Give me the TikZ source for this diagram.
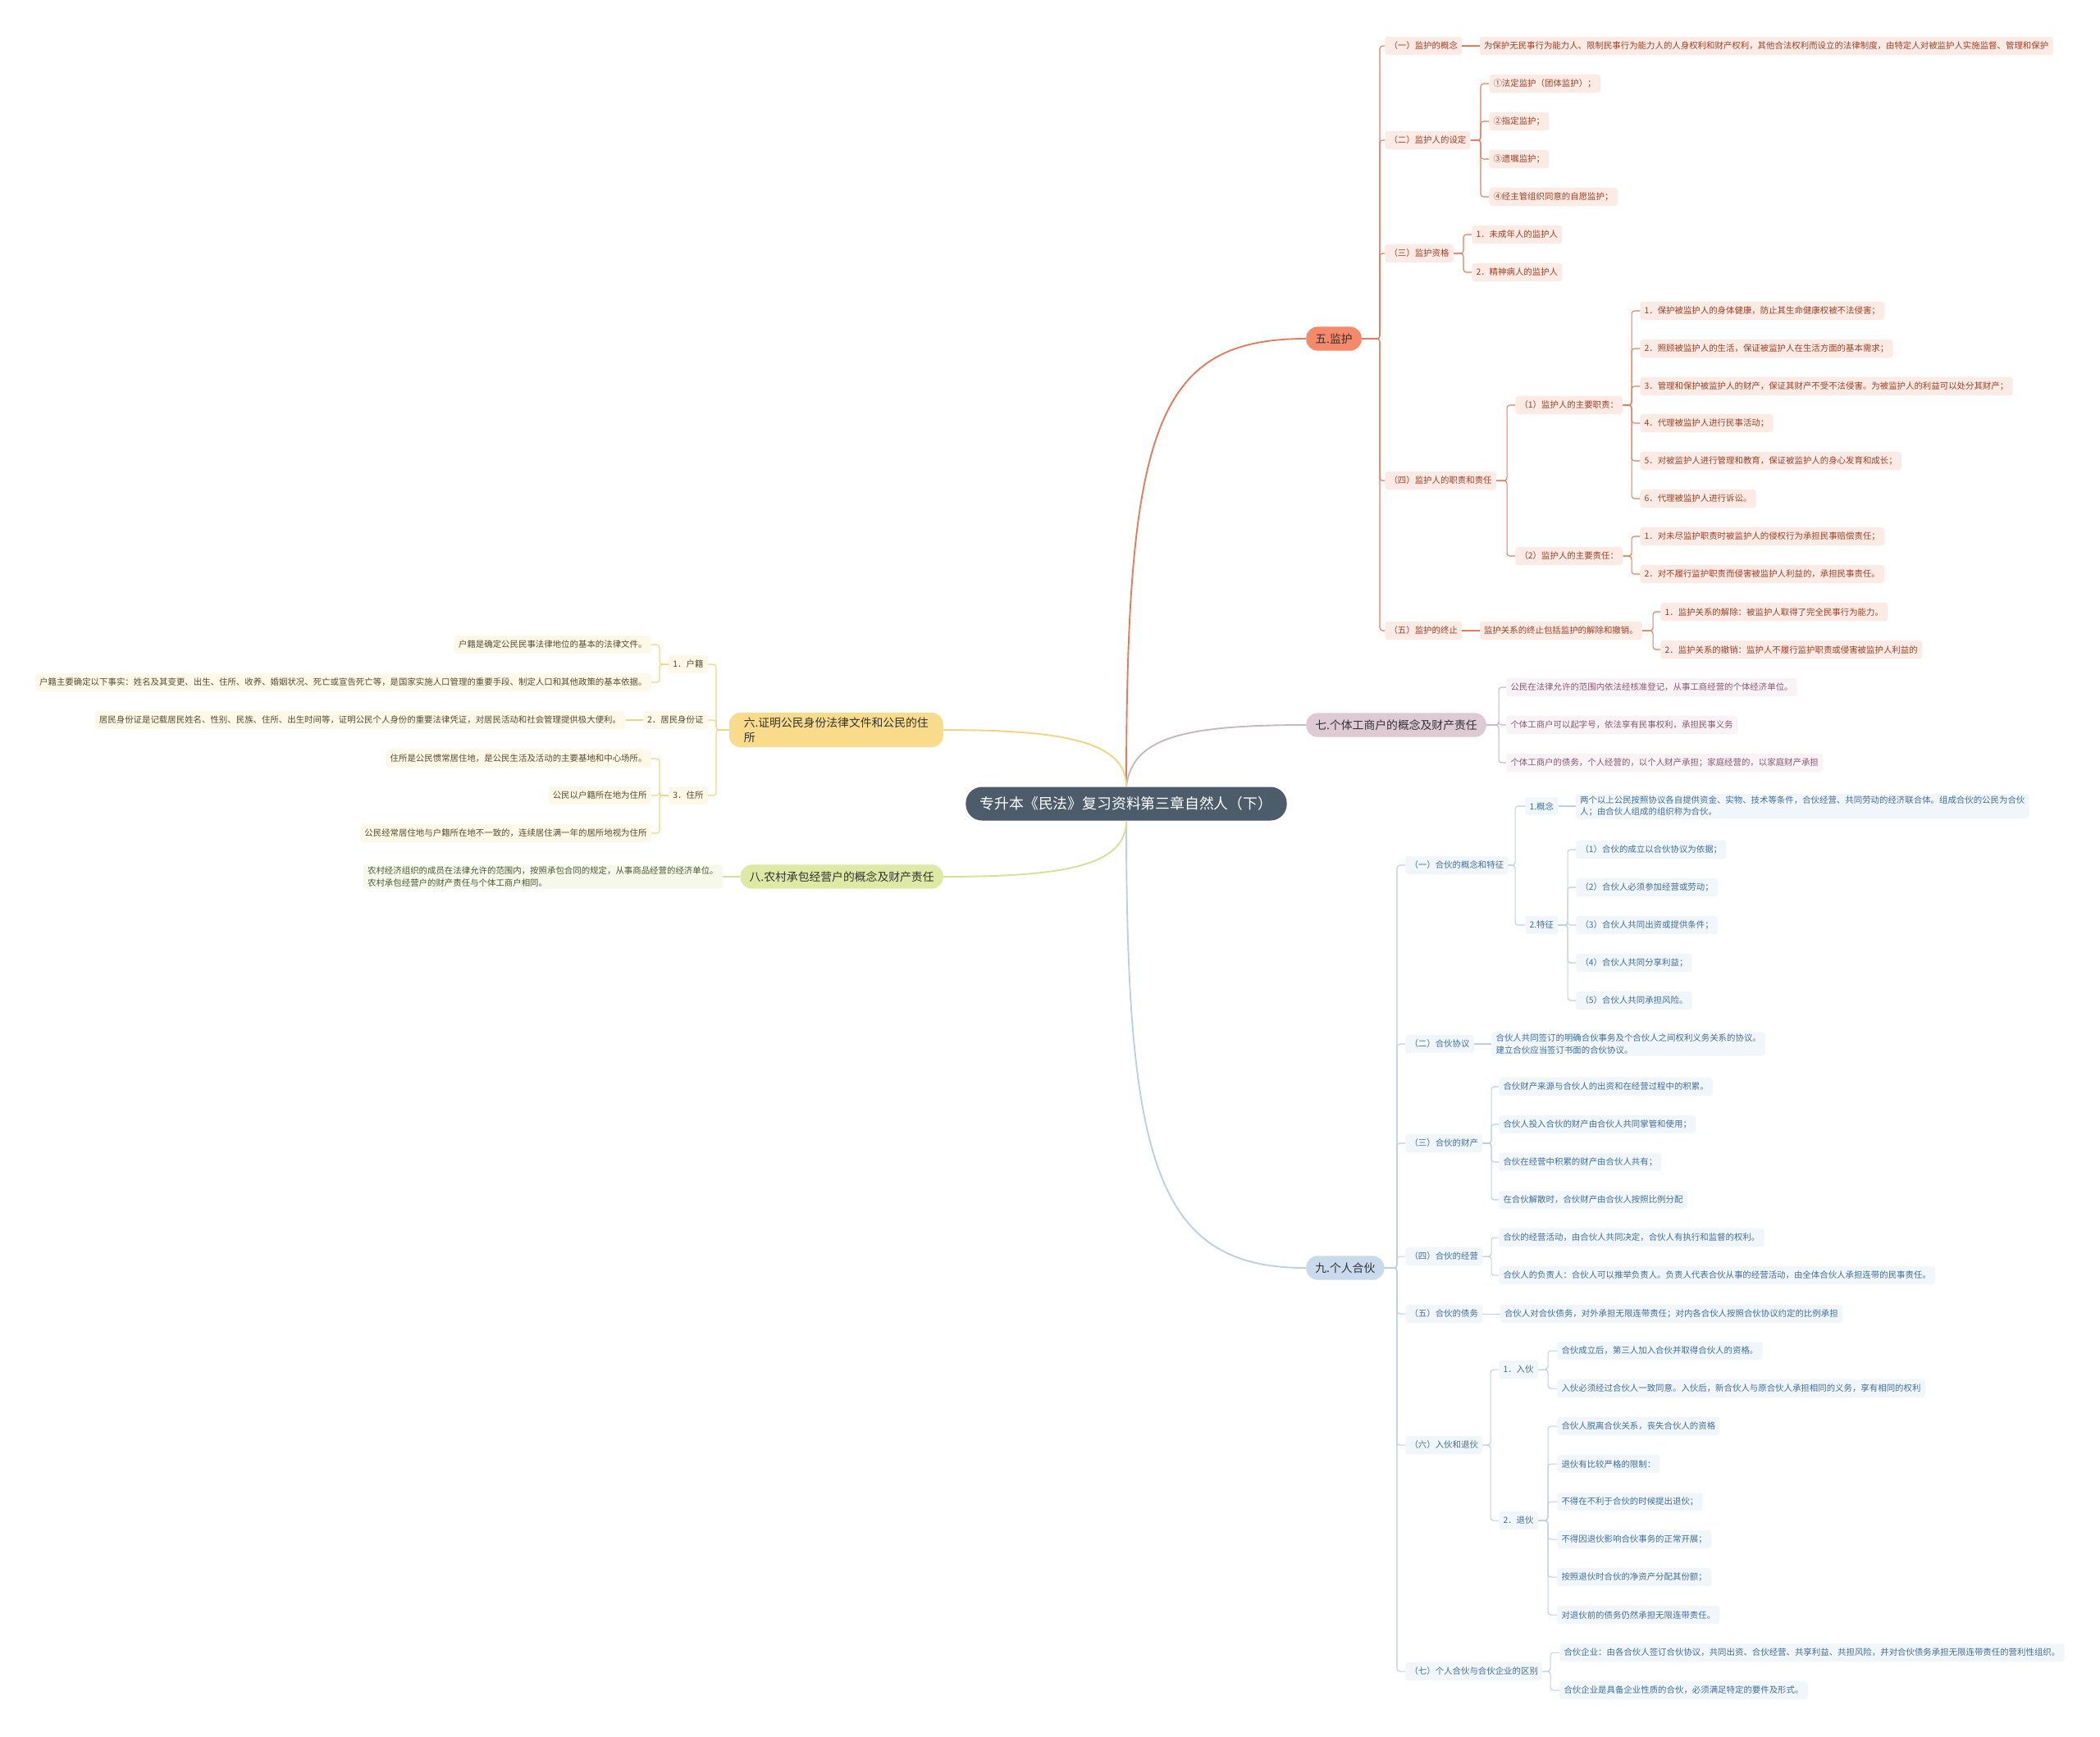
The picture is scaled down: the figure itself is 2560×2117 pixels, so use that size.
\documentclass[tikz,border=0pt]{standalone}
\usepackage{fontspec}
\setmainfont{Noto Sans CJK SC}
\usetikzlibrary{positioning}

\definecolor{rootFill}{HTML}{4D5C6B}
\definecolor{wuMain}{HTML}{F58A6A}
\definecolor{wuLine}{HTML}{E67B5C}
\definecolor{wuPale}{HTML}{FCEAE4}
\definecolor{wuText}{HTML}{A23F25}
\definecolor{qiMain}{HTML}{DDCAD2}
\definecolor{qiLine}{HTML}{C9B6BE}
\definecolor{qiPale}{HTML}{F9F3F5}
\definecolor{qiText}{HTML}{8A5674}
\definecolor{jiuMain}{HTML}{C8DAEC}
\definecolor{jiuLine}{HTML}{BCD0E3}
\definecolor{jiuPale}{HTML}{F1F6FB}
\definecolor{jiuText}{HTML}{3F6E9E}
\definecolor{liuMain}{HTML}{F8DC8B}
\definecolor{liuLine}{HTML}{F2D47C}
\definecolor{liuPale}{HTML}{FDF8E8}
\definecolor{liuText}{HTML}{5A4B30}
\definecolor{baMain}{HTML}{DDE9A5}
\definecolor{baLine}{HTML}{D2E296}
\definecolor{baPale}{HTML}{F5F8EA}
\definecolor{baText}{HTML}{4E5833}

\begin{document}
\begin{tikzpicture}[
			x=0.03cm, y=-0.03cm,
			node distance=18pt,
			rootbox/.style={
				fill=rootFill, text=white, rounded corners=17pt, inner xsep=15pt,
				minimum height=1.23cm, font=\fontsize{15.2}{18}\selectfont
			},
			branch/.style={
				rounded corners=12pt, inner xsep=9.5pt, minimum height=0.88cm,
				text=black!80, font=\fontsize{11.8}{15}\selectfont
			},
			leaf/.style={
				rounded corners=3pt, inner xsep=4.5pt, inner ysep=2pt, align=left,
				minimum height=0.67cm, font=\fontsize{8.9}{12.5}\selectfont
			},
			wubox/.style={leaf, fill=wuPale, text=wuText},
			qibox/.style={leaf, fill=qiPale, text=qiText},
			jiubox/.style={leaf, fill=jiuPale, text=jiuText},
			liubox/.style={leaf, fill=liuPale, text=liuText},
			babox/.style={leaf, fill=baPale, text=baText},
			curve/.style={line width=1.6pt},
			tree/.style={line width=0.9pt, rounded corners=3pt},
			wutree/.style={tree, draw=wuLine},
			qitree/.style={tree, draw=qiLine},
			jiutree/.style={tree, draw=jiuLine},
			liutree/.style={tree, draw=liuLine},
			batree/.style={tree, draw=baLine}
			]
			
			\fill[white] (0,0) rectangle (2560,2117);
			\useasboundingbox (0,0) rectangle (2560,2117);
			
			% 1. ROOT (Center)
			\node[rootbox] (root) at (1373,980) {专升本《民法》复习资料第三章自然人（下）};
			
			% 2. BRANCH FIVE: GUARDIANSHIP (Top right)
			\node[branch, fill=wuMain, anchor=west] (wu) at (1592,413) {五.监护};
			\draw[curve, draw=wuLine] (root.north) .. controls (1373,520) and (1410,413) .. (wu.west);
			
			\node[wubox, anchor=west] (wu1) at (1688,56) {（一）监护的概念};
			\node[wubox, right=of wu1] (wu1a) {为保护无民事行为能力人、限制民事行为能力人的人身权利和财产权利，其他合法权利而设立的法律制度，由特定人对被监护人实施监督、管理和保护};
			\node[wubox, anchor=west] (wu2) at (1688,171) {（二）监护人的设定};
			\node[wubox, anchor=west] (wu2a) at (1815,102) {①法定监护（团体监护）；};
			\node[wubox, anchor=west] (wu2b) at (1815,148) {②指定监护；};
			\node[wubox, anchor=west] (wu2c) at (1815,194) {③遗嘱监护；};
			\node[wubox, anchor=west] (wu2d) at (1815,240) {④经主管组织同意的自愿监护；};
			\node[wubox, anchor=west] (wu3) at (1688,309) {（三）监护资格};
			\node[wubox, anchor=west] (wu3a) at (1794,286) {1．未成年人的监护人};
			\node[wubox, anchor=west] (wu3b) at (1794,332) {2．精神病人的监护人};
			\node[wubox, anchor=west] (wu4) at (1688,586) {（四）监护人的职责和责任};
			\node[wubox, anchor=west] (wu4a) at (1847,494) {（1）监护人的主要职责：};
			\node[wubox, anchor=west] (wu4a1) at (1999,379) {1．保护被监护人的身体健康，防止其生命健康权被不法侵害；};
			\node[wubox, anchor=west] (wu4a2) at (1999,425) {2．照顾被监护人的生活，保证被监护人在生活方面的基本需求；};
			\node[wubox, anchor=west] (wu4a3) at (1999,471) {3．管理和保护被监护人的财产，保证其财产不受不法侵害。为被监护人的利益可以处分其财产；};
			\node[wubox, anchor=west] (wu4a4) at (1999,516) {4．代理被监护人进行民事活动；};
			\node[wubox, anchor=west] (wu4a5) at (1999,562) {5．对被监护人进行管理和教育，保证被监护人的身心发育和成长；};
			\node[wubox, anchor=west] (wu4a6) at (1999,608) {6．代理被监护人进行诉讼。};
			\node[wubox, anchor=west] (wu4b) at (1847,678) {（2）监护人的主要责任：};
			\node[wubox, anchor=west] (wu4b1) at (1999,654) {1．对未尽监护职责时被监护人的侵权行为承担民事赔偿责任；};
			\node[wubox, anchor=west] (wu4b2) at (1999,700) {2．对不履行监护职责而侵害被监护人利益的，承担民事责任。};
			\node[wubox, anchor=west] (wu5) at (1688,769) {（五）监护的终止};
			\node[wubox, right=of wu5] (wu5a) {监护关系的终止包括监护的解除和撤销。};
			\node[wubox, anchor=west] (wu5a1) at (2024,746) {1．监护关系的解除：被监护人取得了完全民事行为能力。};
			\node[wubox, anchor=west] (wu5a2) at (2024,792) {2．监护关系的撤销：监护人不履行监护职责或侵害被监护人利益的};
			
			\foreach \c in {wu1,wu2,wu3,wu4,wu5}
			\draw[wutree] (\c.west) -- ++(-6,0) |- (wu.east);
			\draw[wutree] (wu1.east) -- (wu1a.west);
			\foreach \c in {wu2a,wu2b,wu2c,wu2d}
			\draw[wutree] (\c.west) -- ++(-10,0) |- (wu2.east);
			\foreach \c in {wu3a,wu3b}
			\draw[wutree] (\c.west) -- ++(-10,0) |- (wu3.east);
			\foreach \c in {wu4a,wu4b}
			\draw[wutree] (\c.west) -- ++(-10,0) |- (wu4.east);
			\foreach \c in {wu4a1,wu4a2,wu4a3,wu4a4,wu4a5,wu4a6}
			\draw[wutree] (\c.west) -- ++(-10,0) |- (wu4a.east);
			\foreach \c in {wu4b1,wu4b2}
			\draw[wutree] (\c.west) -- ++(-10,0) |- (wu4b.east);
			\draw[wutree] (wu5.east) -- (wu5a.west);
			\foreach \c in {wu5a1,wu5a2}
			\draw[wutree] (\c.west) -- ++(-9,0) |- (wu5a.east);
			
			% 3. BRANCH SEVEN: INDIVIDUAL BUSINESSES (Right)
			\node[branch, fill=qiMain, anchor=west] (qi) at (1592,884) {七.个体工商户的概念及财产责任};
			\draw[curve, draw=qiLine] (root.north) .. controls (1380,900) and (1440,884) .. (qi.west);
			
			\node[qibox, anchor=west] (qi1) at (1836,838) {公民在法律允许的范围内依法经核准登记，从事工商经营的个体经济单位。};
			\node[qibox, anchor=west] (qi2) at (1836,884) {个体工商户可以起字号，依法享有民事权利，承担民事义务};
			\node[qibox, anchor=west] (qi3) at (1836,930) {个体工商户的债务，个人经营的，以个人财产承担；家庭经营的，以家庭财产承担};
			\foreach \c in {qi1,qi2,qi3}
			\draw[qitree] (\c.west) -- ++(-9,0) |- (qi.east);
			
			% 4. BRANCH NINE: PARTNERSHIP (Bottom right)
			\node[branch, fill=jiuMain, anchor=west] (jiu) at (1592,1546) {九.个人合伙};
			\draw[curve, draw=jiuLine] (root.south) .. controls (1373,1420) and (1410,1546) .. (jiu.west);
			
			\node[jiubox, anchor=west] (j1) at (1713,1055) {（一）合伙的概念和特征};
			\node[jiubox, anchor=west] (j1a) at (1859,983) {1.概念};
			\node[jiubox, right=of j1a] (j1a1) {两个以上公民按照协议各自提供资金、实物、技术等条件，合伙经营、共同劳动的经济联合体。组成合伙的公民为合伙\\人；由合伙人组成的组织称为合伙。};
			\node[jiubox, anchor=west] (j1b) at (1859,1128) {2.特征};
			\node[jiubox, anchor=west] (j1b1) at (1921,1036) {（1）合伙的成立以合伙协议为依据；};
			\node[jiubox, anchor=west] (j1b2) at (1921,1082) {（2）合伙人必须参加经营或劳动；};
			\node[jiubox, anchor=west] (j1b3) at (1921,1128) {（3）合伙人共同出资或提供条件；};
			\node[jiubox, anchor=west] (j1b4) at (1921,1174) {（4）合伙人共同分享利益；};
			\node[jiubox, anchor=west] (j1b5) at (1921,1220) {（5）合伙人共同承担风险。};
			\node[jiubox, anchor=west] (j2) at (1713,1273) {（二）合伙协议};
			\node[jiubox, right=of j2] (j2a) {合伙人共同签订的明确合伙事务及个合伙人之间权利义务关系的协议。\\建立合伙应当签订书面的合伙协议。};
			\node[jiubox, anchor=west] (j3) at (1713,1394) {（三）合伙的财产};
			\node[jiubox, anchor=west] (j3a) at (1827,1325) {合伙财产来源与合伙人的出资和在经营过程中的积累。};
			\node[jiubox, anchor=west] (j3b) at (1827,1371) {合伙人投入合伙的财产由合伙人共同掌管和使用；};
			\node[jiubox, anchor=west] (j3c) at (1827,1417) {合伙在经营中积累的财产由合伙人共有；};
			\node[jiubox, anchor=west] (j3d) at (1827,1463) {在合伙解散时，合伙财产由合伙人按照比例分配};
			\node[jiubox, anchor=west] (j4) at (1713,1532) {（四）合伙的经营};
			\node[jiubox, anchor=west] (j4a) at (1827,1509) {合伙的经营活动，由合伙人共同决定，合伙人有执行和监督的权利。};
			\node[jiubox, anchor=west] (j4b) at (1827,1555) {合伙人的负责人：合伙人可以推举负责人。负责人代表合伙从事的经营活动，由全体合伙人承担连带的民事责任。};
			\node[jiubox, anchor=west] (j5) at (1713,1602) {（五）合伙的债务};
			\node[jiubox, right=of j5] (j5a) {合伙人对合伙债务，对外承担无限连带责任；对内各合伙人按照合伙协议约定的比例承担};
			\node[jiubox, anchor=west] (j6) at (1713,1762) {（六）入伙和退伙};
			\node[jiubox, anchor=west] (j6a) at (1827,1670) {1．入伙};
			\node[jiubox, anchor=west] (j6a1) at (1898,1647) {合伙成立后，第三人加入合伙并取得合伙人的资格。};
			\node[jiubox, anchor=west] (j6a2) at (1898,1693) {入伙必须经过合伙人一致同意。入伙后，新合伙人与原合伙人承担相同的义务，享有相同的权利};
			\node[jiubox, anchor=west] (j6b) at (1827,1854) {2．退伙};
			\node[jiubox, anchor=west] (j6b1) at (1898,1739) {合伙人脱离合伙关系，丧失合伙人的资格};
			\node[jiubox, anchor=west] (j6b2) at (1898,1785) {退伙有比较严格的限制：};
			\node[jiubox, anchor=west] (j6b3) at (1898,1831) {不得在不利于合伙的时候提出退伙；};
			\node[jiubox, anchor=west] (j6b4) at (1898,1877) {不得因退伙影响合伙事务的正常开展；};
			\node[jiubox, anchor=west] (j6b5) at (1898,1923) {按照退伙时合伙的净资产分配其份额；};
			\node[jiubox, anchor=west] (j6b6) at (1898,1969) {对退伙前的债务仍然承担无限连带责任。};
			\node[jiubox, anchor=west] (j7) at (1713,2038) {（七）个人合伙与合伙企业的区别};
			\node[jiubox, anchor=west] (j7a) at (1901,2015) {合伙企业：由各合伙人签订合伙协议，共同出资、合伙经营、共享利益、共担风险，并对合伙债务承担无限连带责任的营利性组织。};
			\node[jiubox, anchor=west] (j7b) at (1901,2061) {合伙企业是具备企业性质的合伙，必须满足特定的要件及形式。};
			
			\foreach \c in {j1,j2,j3,j4,j5,j6,j7}
			\draw[jiutree] (\c.west) -- ++(-10,0) |- (jiu.east);
			\foreach \c in {j1a,j1b}
			\draw[jiutree] (\c.west) -- ++(-12,0) |- (j1.east);
			\draw[jiutree] (j1a.east) -- (j1a1.west);
			\foreach \c in {j1b1,j1b2,j1b3,j1b4,j1b5}
			\draw[jiutree] (\c.west) -- ++(-10,0) |- (j1b.east);
			\draw[jiutree] (j2.east) -- (j2a.west);
			\foreach \c in {j3a,j3b,j3c,j3d}
			\draw[jiutree] (\c.west) -- ++(-9,0) |- (j3.east);
			\foreach \c in {j4a,j4b}
			\draw[jiutree] (\c.west) -- ++(-9,0) |- (j4.east);
			\draw[jiutree] (j5.east) -- (j5a.west);
			\foreach \c in {j6a,j6b}
			\draw[jiutree] (\c.west) -- ++(-10,0) |- (j6.east);
			\foreach \c in {j6a1,j6a2}
			\draw[jiutree] (\c.west) -- ++(-11,0) |- (j6a.east);
			\foreach \c in {j6b1,j6b2,j6b3,j6b4,j6b5,j6b6}
			\draw[jiutree] (\c.west) -- ++(-11,0) |- (j6b.east);
			\foreach \c in {j7a,j7b}
			\draw[jiutree] (\c.west) -- ++(-11,0) |- (j7.east);
			
			% 5. BRANCH SIX: IDENTITY DOCUMENTS (Left)
			\node[branch, fill=liuMain, anchor=east, align=left, inner ysep=5pt, minimum width=7.83cm] (liu) at (1150,890) {六.证明公民身份法律文件和公民的住\\所};
			\draw[curve, draw=liuLine] (liu.east) .. controls (1300,890) and (1373,905) .. (root.north);
			
			\node[liubox, anchor=east] (l1) at (863,810) {1．户籍};
			\node[liubox, anchor=east] (l1a) at (794,786) {户籍是确定公民民事法律地位的基本的法律文件。};
			\node[liubox, anchor=east] (l1b) at (794,832) {户籍主要确定以下事实：姓名及其变更、出生、住所、收养、婚姻状况、死亡或宣告死亡等，是国家实施人口管理的重要手段、制定人口和其他政策的基本依据。};
			\node[liubox, anchor=east] (l2) at (863,878) {2．居民身份证};
			\node[liubox, left=of l2] (l2a) {居民身份证是记载居民姓名、性别、民族、住所、出生时间等，证明公民个人身份的重要法律凭证，对居民活动和社会管理提供极大便利。};
			\node[liubox, anchor=east] (l3) at (863,970) {3．住所};
			\node[liubox, anchor=east] (l3a) at (794,925) {住所是公民惯常居住地，是公民生活及活动的主要基地和中心场所。};
			\node[liubox, anchor=east] (l3b) at (794,970) {公民以户籍所在地为住所};
			\node[liubox, anchor=east] (l3c) at (794,1016) {公民经常居住地与户籍所在地不一致的，连续居住满一年的居所地视为住所};
			
			\foreach \c in {l1,l2,l3}
			\draw[liutree] (\c.east) -- ++(10,0) |- (liu.west);
			\foreach \c in {l1a,l1b}
			\draw[liutree] (\c.east) -- ++(10,0) |- (l1.west);
			\draw[liutree] (l2.west) -- (l2a.east);
			\foreach \c in {l3a,l3b,l3c}
			\draw[liutree] (\c.east) -- ++(10,0) |- (l3.west);
			
			% 6. BRANCH EIGHT: RURAL CONTRACTORS (Lower left)
			\node[branch, fill=baMain, anchor=east] (ba) at (1150,1069) {八.农村承包经营户的概念及财产责任};
			\draw[curve, draw=baLine] (ba.east) .. controls (1300,1069) and (1373,1055) .. (root.south);
			\node[babox, left=of ba] (ba1) {农村经济组织的成员在法律允许的范围内，按照承包合同的规定，从事商品经营的经济单位。\\农村承包经营户的财产责任与个体工商户相同。};
			\draw[batree] (ba.west) -- (ba1.east);
		\end{tikzpicture}
\end{document}
